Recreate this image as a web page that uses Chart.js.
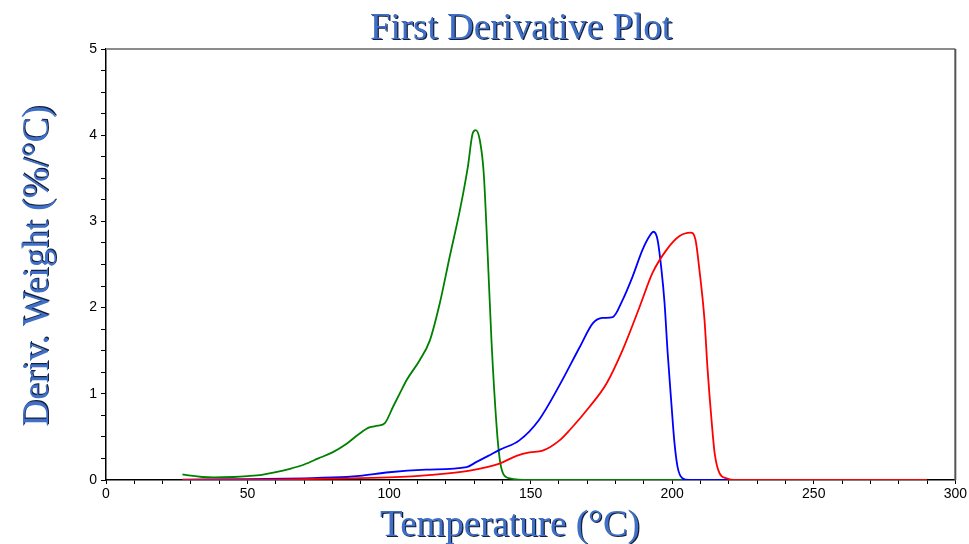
<!DOCTYPE html>
<html>
<head>
<meta charset="utf-8">
<script src="https://cdn.jsdelivr.net/npm/chart.js@4/dist/chart.umd.min.js"></script>
<style>
  html, body { margin: 0; padding: 0; background: #fff; }
</style>
</head>
<body>
<canvas id="chart" width="969" height="544"></canvas>
<script>
// Datos (temperatura en °C, derivada en %/°C)
const greenT = [27, 30, 34, 38, 45, 50, 55, 60, 65, 70, 75, 80, 85, 89.6, 93, 96, 98.5, 101.4, 104, 106.2, 110.8, 114.4, 117.9, 121.4, 125, 127.8, 129.5, 130.6, 132, 133.4, 134.8, 136.2, 138, 139, 140.2, 142.6, 150, 200, 250, 290];
const greenD = [0.066, 0.05, 0.035, 0.03, 0.035, 0.045, 0.06, 0.09, 0.13, 0.18, 0.25, 0.32, 0.42, 0.54, 0.61, 0.63, 0.66, 0.85, 1.02, 1.16, 1.39, 1.62, 2.05, 2.59, 3.13, 3.63, 4.02, 4.06, 3.95, 3.57, 2.63, 1.59, 0.61, 0.26, 0.08, 0.02, 0, 0, 0, 0];

const blueT = [27, 50, 70, 85, 89.6, 100, 113, 127.4, 130.9, 135, 139, 146, 153, 160.2, 167.3, 172, 175.4, 179, 182.5, 186, 189.5, 192, 193.4, 194.8, 196.2, 197.3, 198.4, 199.7, 200.8, 201.9, 203.6, 206, 250, 290];
const blueD = [0.005, 0.01, 0.02, 0.035, 0.047, 0.09, 0.12, 0.15, 0.21, 0.28, 0.35, 0.46, 0.7, 1.1, 1.54, 1.82, 1.88, 1.89, 2.09, 2.36, 2.67, 2.83, 2.88, 2.79, 2.44, 2.05, 1.47, 0.89, 0.43, 0.15, 0.02, 0, 0, 0];

const redT = [27, 60, 80, 100, 115, 128.5, 139, 145, 149.6, 154.2, 160.2, 163.8, 170.8, 176.8, 182.5, 188.5, 193, 198, 202.6, 206.5, 208.2, 209.6, 211.4, 212.5, 213.9, 215, 216.7, 219.2, 222, 250, 290];
const redD = [0, 0.005, 0.015, 0.03, 0.06, 0.11, 0.19, 0.28, 0.32, 0.34, 0.46, 0.58, 0.85, 1.12, 1.51, 2.01, 2.4, 2.67, 2.83, 2.87, 2.79, 2.44, 1.86, 1.28, 0.69, 0.31, 0.08, 0.02, 0, 0, 0];

// Rangos y etiquetas de los ejes
const xRange = [0, 300];
const yRange = [0, 5];
const xLabelEvery = 50;
const yLabelEvery = 1;

const TITLE = 'First Derivative Plot';
const X_TITLE = 'Temperature (°C)';
const Y_TITLE = 'Deriv. Weight (%/°C)';

const COLORS = {
    green: '#008000',
    blue:  '#0000FF',
    red:   '#FF0000',
    text:  '#3F6FC6',
    shade: '#14203a',
};

const toPoints = (xs, ys) => xs.map((x, i) => ({ x: x, y: ys[i] }));

// Texto estilo "WordArt": sombra oscura y relleno azul
function shadowText(ctx, text, x, y) {
    ctx.fillStyle = COLORS.shade;
    ctx.fillText(text, x + 1.2, y + 1.2);
    ctx.fillStyle = COLORS.text;
    ctx.fillText(text, x, y);
}

const decor = {
    id: 'decor',
    afterDraw(chart) {
        const ctx = chart.ctx;
        const a = chart.chartArea;
        ctx.save();
        // marco superior y derecho
        ctx.strokeStyle = '#8c8c8c';
        ctx.lineWidth = 2;
        ctx.beginPath();
        ctx.moveTo(a.left, a.top);
        ctx.lineTo(a.right, a.top);
        ctx.stroke();
        ctx.strokeStyle = '#555555';
        ctx.beginPath();
        ctx.moveTo(a.right, a.top);
        ctx.lineTo(a.right, a.bottom);
        ctx.stroke();

        ctx.font = '37px "Liberation Serif", "Times New Roman", serif';
        ctx.textAlign = 'center';
        ctx.textBaseline = 'alphabetic';
        shadowText(ctx, TITLE, 521, 39);
        shadowText(ctx, X_TITLE, 510, 536);

        ctx.translate(48, 266);
        ctx.rotate(-Math.PI / 2);
        shadowText(ctx, Y_TITLE, 0, 0);
        ctx.restore();
    }
};

const lineStyle = {
    borderWidth: 1.8,
    pointRadius: 0,
    fill: false,
    cubicInterpolationMode: 'monotone',
};

new Chart(document.getElementById('chart'), {
    type: 'line',
    data: {
        datasets: [
            { ...lineStyle, label: 'red',   data: toPoints(redT, redD),     borderColor: COLORS.red },
            { ...lineStyle, label: 'blue',  data: toPoints(blueT, blueD),   borderColor: COLORS.blue },
            { ...lineStyle, label: 'green', data: toPoints(greenT, greenD), borderColor: COLORS.green },
        ]
    },
    options: {
        responsive: false,
        animation: false,
        layout: { padding: { top: 49, right: 13, left: 0, bottom: 0 } },
        plugins: {
            legend: { display: false },
            title: { display: false },
            tooltip: { enabled: false },
        },
        scales: {
            x: {
                type: 'linear',
                min: xRange[0],
                max: xRange[1],
                afterFit: s => { s.height = 64; },
                border: { color: '#000', width: 1.5 },
                grid: { drawOnChartArea: false, drawTicks: true, tickLength: 4, color: '#000' },
                ticks: {
                    stepSize: 10,
                    autoSkip: false,
                    maxRotation: 0,
                    padding: 2,
                    color: '#000',
                    font: { family: '"Liberation Sans", Arial, sans-serif', size: 14 },
                    callback: v => (v % xLabelEvery === 0 ? String(v) : ''),
                }
            },
            y: {
                min: yRange[0],
                max: yRange[1],
                afterFit: s => { s.width = 106; },
                border: { color: '#000', width: 1.5 },
                grid: { drawOnChartArea: false, drawTicks: true, tickLength: 5, color: '#000' },
                ticks: {
                    stepSize: 0.25,
                    autoSkip: false,
                    padding: 4,
                    color: '#000',
                    font: { family: '"Liberation Sans", Arial, sans-serif', size: 14 },
                    callback: v => (Math.abs(v % yLabelEvery) < 1e-9 ? String(v) : ''),
                }
            }
        }
    },
    plugins: [decor]
});
</script>
</body>
</html>
